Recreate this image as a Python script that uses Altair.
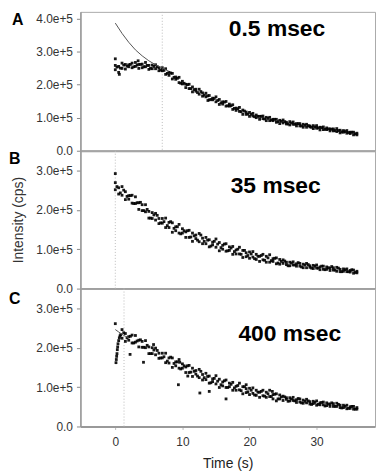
import altair as alt
import pandas as pd

FONT = "Liberation Sans"

# sample times (s)
TIME = [0, 0.5, 1, 1.5, 2, 2.5, 3, 3.5, 4, 4.5, 5, 5.5, 6, 6.5, 7, 7.5, 8, 8.5, 9, 9.5,
        10, 10.5, 11, 11.5, 12, 12.5, 13, 13.5, 14, 14.5, 15, 15.5, 16, 16.5, 17, 17.5,
        18, 18.5, 19, 19.5, 20, 20.5, 21, 21.5, 22, 22.5, 23, 23.5, 24, 24.5, 25, 25.5,
        26, 26.5, 27, 27.5, 28, 28.5, 29, 29.5, 30, 30.5, 31, 31.5, 32, 32.5, 33, 33.5,
        34, 34.5, 35, 35.5, 36]
TIME2 = [0.25, 0.75, 1.25, 1.75, 2.25, 2.75, 3.25, 3.75, 4.25, 4.75, 5.25, 5.75, 6.25, 6.75,
         7.25, 7.75, 8.25, 8.75, 9.25, 9.75, 10.25, 10.75, 11.25, 11.75, 12.25, 12.75, 13.25,
         13.75, 14.25, 14.75, 15.25, 15.75, 16.25, 16.75, 17.25, 17.75, 18.25, 18.75, 19.25,
         19.75, 20.25, 20.75, 21.25, 21.75, 22.25, 22.75, 23.25, 23.75, 24.25, 24.75, 25.25,
         25.75, 26.25, 26.75, 27.25, 27.75, 28.25, 28.75, 29.25, 29.75, 30.25, 30.75, 31.25,
         31.75, 32.25, 32.75, 33.25, 33.75, 34.25, 34.75, 35.25, 35.75]

# Panel A (0.5 msec), intensity in units of 1e5 cps
A_S1 = [2.58, 2.55, 2.65, 2.61, 2.60, 2.65, 2.67, 2.61, 2.62, 2.67, 2.58, 2.59, 2.60, 2.51,
        2.51, 2.48, 2.37, 2.34, 2.23, 2.22, 2.10, 2.01, 2.01, 1.93, 1.86, 1.86, 1.75, 1.74,
        1.67, 1.59, 1.63, 1.55, 1.48, 1.49, 1.41, 1.39, 1.29, 1.31, 1.23, 1.17, 1.16, 1.13,
        1.08, 1.04, 1.05, 1.01, 1.01, 0.95, 0.95, 0.92, 0.93, 0.86, 0.88, 0.87, 0.82, 0.82,
        0.80, 0.80, 0.75, 0.76, 0.76, 0.71, 0.72, 0.69, 0.66, 0.66, 0.67, 0.62, 0.61, 0.61,
        0.56, 0.56, 0.53]
A_S2 = [2.45, 2.37, 2.49, 2.47, 2.54, 2.51, 2.55, 2.49, 2.51, 2.54, 2.46, 2.48, 2.48, 2.42,
        2.42, 2.31, 2.28, 2.17, 2.16, 2.06, 2.02, 1.91, 1.88, 1.78, 1.80, 1.71, 1.65, 1.63,
        1.54, 1.54, 1.48, 1.40, 1.41, 1.35, 1.35, 1.25, 1.22, 1.19, 1.10, 1.10, 1.04, 1.05,
        1.00, 0.95, 0.97, 0.91, 0.91, 0.91, 0.86, 0.82, 0.84, 0.81, 0.78, 0.80, 0.75, 0.75,
        0.71, 0.71, 0.72, 0.67, 0.68, 0.63, 0.64, 0.64, 0.60, 0.60, 0.58, 0.54, 0.56, 0.53,
        0.52, 0.48, 0.48]
A_S3 = [2.53, 2.50, 2.59, 2.56, 2.61, 2.54, 2.59, 2.61, 2.54, 2.58, 2.49, 2.55, 2.54, 2.44,
        2.43, 2.34, 2.35, 2.22, 2.19, 2.04, 2.04, 2.00, 1.88, 1.85, 1.76, 1.79, 1.68, 1.66,
        1.55, 1.58, 1.52, 1.45, 1.47, 1.36, 1.36, 1.28, 1.27, 1.18, 1.20, 1.11, 1.10, 1.03,
        1.04, 1.04, 0.96, 0.98, 0.93, 0.95, 0.88, 0.89, 0.88, 0.81, 0.84, 0.80, 0.82, 0.75,
        0.77, 0.76, 0.71, 0.72, 0.69, 0.70, 0.65, 0.66, 0.65, 0.61, 0.61, 0.57, 0.58, 0.55,
        0.56, 0.51]
A_OUT_TIME = [0.0, 0.6, 3.4, 13.8]
A_OUT_VAL = [2.78, 2.31, 2.72, 1.52]
A_FIT_TIME = [0, 1, 2, 3, 4, 5, 6, 7, 8]
A_FIT_VAL = [3.86, 3.55, 3.28, 3.05, 2.87, 2.72, 2.60, 2.50, 2.40]

# Panel B (35 msec)
B_S1 = [2.69, 2.56, 2.59, 2.46, 2.36, 2.37, 2.33, 2.18, 2.13, 2.13, 1.96, 1.93, 1.91, 1.78,
        1.78, 1.79, 1.68, 1.67, 1.57, 1.63, 1.52, 1.44, 1.48, 1.41, 1.36, 1.40, 1.28, 1.30,
        1.24, 1.18, 1.26, 1.17, 1.10, 1.14, 1.06, 1.07, 0.98, 1.05, 0.97, 0.91, 0.93, 0.94,
        0.87, 0.82, 0.87, 0.82, 0.86, 0.76, 0.78, 0.74, 0.73, 0.67, 0.67, 0.68, 0.63, 0.64,
        0.62, 0.64, 0.58, 0.59, 0.60, 0.55, 0.57, 0.55, 0.52, 0.53, 0.54, 0.49, 0.50, 0.50,
        0.46, 0.47, 0.44]
B_S2 = [2.51, 2.40, 2.37, 2.26, 2.27, 2.17, 2.16, 2.01, 1.98, 1.95, 1.79, 1.78, 1.74, 1.65,
        1.66, 1.55, 1.55, 1.43, 1.47, 1.41, 1.41, 1.30, 1.30, 1.20, 1.27, 1.19, 1.14, 1.14,
        1.06, 1.11, 1.05, 0.96, 1.00, 0.95, 0.97, 0.87, 0.88, 0.88, 0.79, 0.81, 0.77, 0.80,
        0.74, 0.69, 0.73, 0.67, 0.67, 0.69, 0.63, 0.62, 0.64, 0.61, 0.58, 0.60, 0.57, 0.57,
        0.53, 0.53, 0.54, 0.51, 0.52, 0.48, 0.49, 0.49, 0.46, 0.47, 0.44, 0.43, 0.44, 0.43,
        0.42, 0.39, 0.40]
B_S3 = [2.59, 2.43, 2.50, 2.34, 2.36, 2.16, 2.18, 2.19, 1.98, 2.01, 1.79, 1.87, 1.86, 1.67,
        1.70, 1.60, 1.70, 1.53, 1.57, 1.39, 1.47, 1.47, 1.31, 1.34, 1.23, 1.36, 1.20, 1.23,
        1.08, 1.20, 1.13, 1.04, 1.13, 0.96, 1.03, 0.94, 1.00, 0.87, 0.97, 0.84, 0.88, 0.76,
        0.82, 0.84, 0.72, 0.78, 0.71, 0.77, 0.65, 0.69, 0.70, 0.58, 0.65, 0.60, 0.66, 0.55,
        0.60, 0.61, 0.52, 0.57, 0.52, 0.57, 0.48, 0.53, 0.56, 0.47, 0.52, 0.43, 0.48, 0.43,
        0.48, 0.41]
B_OUT_TIME = [0.0]
B_OUT_VAL = [2.92]

# Panel C (400 msec)
C_TIME = TIME[2:]
C_TIME2 = TIME2[2:]
C_S1 = [2.46, 2.36, 2.28, 2.32, 2.31, 2.19, 2.16, 2.18, 2.02, 2.00, 1.99, 1.86, 1.86, 1.86,
        1.74, 1.74, 1.64, 1.70, 1.59, 1.51, 1.55, 1.48, 1.42, 1.45, 1.32, 1.35, 1.28, 1.21,
        1.29, 1.20, 1.13, 1.18, 1.10, 1.12, 1.02, 1.10, 1.01, 0.96, 0.97, 0.98, 0.92, 0.87,
        0.92, 0.87, 0.92, 0.81, 0.83, 0.80, 0.77, 0.73, 0.73, 0.74, 0.68, 0.70, 0.67, 0.69,
        0.63, 0.64, 0.65, 0.60, 0.62, 0.60, 0.57, 0.58, 0.59, 0.54, 0.54, 0.54, 0.50, 0.51,
        0.48]
C_S2 = [2.24, 2.16, 2.19, 2.12, 2.14, 2.02, 2.01, 2.00, 1.85, 1.85, 1.82, 1.73, 1.74, 1.62,
        1.61, 1.50, 1.54, 1.48, 1.48, 1.37, 1.37, 1.27, 1.33, 1.24, 1.18, 1.19, 1.10, 1.14,
        1.08, 0.99, 1.03, 0.99, 1.01, 0.92, 0.92, 0.93, 0.83, 0.86, 0.81, 0.84, 0.79, 0.74,
        0.78, 0.74, 0.76, 0.70, 0.65, 0.70, 0.66, 0.69, 0.65, 0.66, 0.61, 0.62, 0.59, 0.60,
        0.57, 0.58, 0.54, 0.55, 0.55, 0.53, 0.51, 0.51, 0.51, 0.48, 0.48, 0.45, 0.46, 0.44,
        0.44]
C_S3 = [2.38, 2.25, 2.29, 2.12, 2.17, 2.20, 2.01, 2.06, 1.85, 1.94, 1.93, 1.74, 1.77, 1.66,
        1.76, 1.60, 1.64, 1.46, 1.54, 1.54, 1.38, 1.40, 1.28, 1.40, 1.24, 1.27, 1.11, 1.22,
        1.15, 1.06, 1.16, 0.99, 1.07, 0.98, 1.04, 0.91, 1.01, 0.88, 0.92, 0.80, 0.87, 0.89,
        0.77, 0.83, 0.76, 0.82, 0.70, 0.75, 0.75, 0.64, 0.70, 0.65, 0.71, 0.60, 0.64, 0.65,
        0.56, 0.61, 0.56, 0.61, 0.52, 0.57, 0.60, 0.51, 0.56, 0.47, 0.51, 0.46, 0.51, 0.44]
C_RISE_TIME = [0, 0.1, 0.15, 0.2, 0.25, 0.3, 0.35, 0.4, 0.5, 0.6, 0.7, 0.8]
C_RISE_VAL = [2.61, 1.62, 1.70, 1.78, 1.85, 1.95, 2.02, 2.10, 2.18, 2.25, 2.30, 2.33]
C_OUT_TIME = [2.2, 4.2, 5.7, 9.4, 9.6, 10.8, 12.6, 14.0, 16.5, 19.5, 23.4]
C_OUT_VAL = [1.83, 1.63, 2.08, 1.06, 1.63, 1.28, 0.85, 0.89, 0.70, 1.06, 0.89]
C_FIT_TIME = [0, 0.5, 1, 1.5, 2]
C_FIT_VAL = [2.46, 2.40, 2.34, 2.29, 2.25]

X_TICKS = [0, 10, 20, 30]
PANEL_LETTERS = ["A", "B", "C"]
PANEL_TEXT = ["0.5 msec", "35 msec", "400 msec"]
TEXT_POS = [(24.1, 3.67), (23.9, 2.61), (26.0, 2.34)]
Y_TOPS = [4.2, 3.5, 3.5]
Y_TICKS = [[0, 1, 2, 3, 4], [0, 1, 2, 3], [0, 1, 2, 3]]
MARKER_T = [7.0, 0.0, 1.3]
HEIGHTS = [140, 139, 139]
WIDTH = 297


def points(times, *series):
    rows = []
    for s in series:
        rows += [{"t": t, "v": v} for t, v in zip(times, s)]
    return rows


A_PTS = points(TIME, A_S1, A_S2) + points(TIME2, A_S3) + points(A_OUT_TIME, A_OUT_VAL)
B_PTS = points(TIME, B_S1, B_S2) + points(TIME2, B_S3) + points(B_OUT_TIME, B_OUT_VAL)
C_PTS = (points(C_TIME, C_S1, C_S2) + points(C_TIME2, C_S3)
         + points(C_RISE_TIME, C_RISE_VAL) + points(C_OUT_TIME, C_OUT_VAL))
FITS = [points(A_FIT_TIME, A_FIT_VAL), None, points(C_FIT_TIME, C_FIT_VAL)]
ALL_PTS = [A_PTS, B_PTS, C_PTS]

LABEL_EXPR = "datum.value == 0 ? '0.0' : format(datum.value, '.1f') + 'e+5'"


def panel(i):
    last = i == 2
    xscale = alt.Scale(domain=[-5.2, 38.7], nice=False, zero=False)
    yscale = alt.Scale(domain=[0, Y_TOPS[i]], nice=False)
    if last:
        xaxis = alt.Axis(values=X_TICKS, title="Time (s)", grid=False, tickSize=3,
                         labelPadding=7, titlePadding=9, labelFontSize=12, titleFontSize=14,
                         titleFontWeight="normal", domainColor="#999", domainWidth=2,
                         tickColor="#bbb", labelColor="#333", titleColor="#222")
    else:
        xaxis = alt.Axis(values=X_TICKS, title="", grid=False, labels=False, ticks=False,
                         domainColor="#999", domainWidth=2)
    yaxis = alt.Axis(values=Y_TICKS[i], labelExpr=LABEL_EXPR, grid=False, tickSize=4,
                     labelPadding=4, labelFontSize=12, titleFontSize=14,
                     title="Intensity (cps)" if i == 1 else "", titlePadding=10,
                     titleFontWeight="normal", domainColor="#999", domainWidth=1.5,
                     tickColor="#888", labelColor="#333", titleColor="#333")
    X = alt.X("t:Q", scale=xscale, axis=xaxis)
    Y = alt.Y("v:Q", scale=yscale, axis=yaxis)

    rule = alt.Chart(pd.DataFrame({"t": [MARKER_T[i]]})).mark_rule(
        color="#bbb", strokeDash=[1, 2], strokeWidth=1).encode(x=X)
    pts = alt.Chart(pd.DataFrame(ALL_PTS[i])).mark_square(
        size=8, color="#000", opacity=0.9).encode(x=X, y=Y)
    layers = [rule, pts]
    if FITS[i] is not None:
        layers.append(alt.Chart(pd.DataFrame(FITS[i])).mark_line(
            color="#555", strokeWidth=1).encode(x=X, y=Y))
    tx, ty = TEXT_POS[i]
    layers.append(alt.Chart(pd.DataFrame({"t": [tx], "v": [ty], "s": [PANEL_TEXT[i]]})).mark_text(
        font=FONT, fontSize=23, fontWeight="bold", color="#000", align="center",
        baseline="middle").encode(x=X, y=Y, text="s:N"))
    layers.append(alt.Chart(pd.DataFrame({"s": [PANEL_LETTERS[i]]})).mark_text(
        font=FONT, fontSize=16, fontWeight="bold", color="#000", align="left",
        baseline="top").encode(x=alt.value(-72 if i else -69), y=alt.value([0, 0, 3][i]),
                               text="s:N"))
    return alt.layer(*layers).properties(width=WIDTH, height=HEIGHTS[i])


chart = alt.vconcat(panel(0), panel(1), panel(2), spacing=0, bounds="flush").properties(
    padding={"left": 0, "top": 1, "right": 0, "bottom": 0}
).configure_view(stroke="#aaa", strokeWidth=1).configure_axis(
    labelFont=FONT, titleFont=FONT)

chart.save("out.html", embed_options={"renderer": "svg", "actions": False})
